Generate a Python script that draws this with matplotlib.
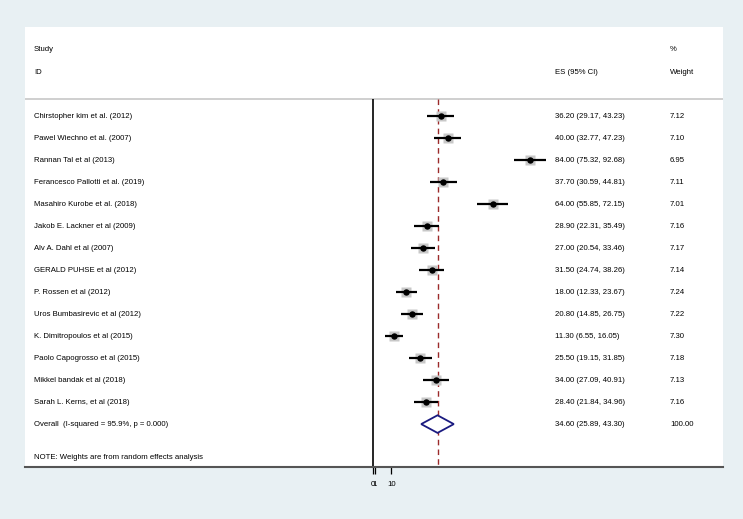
import matplotlib
matplotlib.use("Agg")
import matplotlib.pyplot as plt
from matplotlib.transforms import blended_transform_factory

studies = ["Chirstopher kim et al. (2012)", "Pawel Wiechno et al. (2007)", "Rannan Tal et al (2013)",
           "Ferancesco Pallotti et al. (2019)", "Masahiro Kurobe et al. (2018)", "Jakob E. Lackner et al (2009)",
           "Alv A. Dahl et al (2007)", "GERALD PUHSE et al (2012)", "P. Rossen et al (2012)",
           "Uros Bumbasirevic et al (2012)", "K. Dimitropoulos et al (2015)", "Paolo Capogrosso et al (2015)",
           "Mikkel bandak et al (2018)", "Sarah L. Kerns, et al (2018)"]
es = [36.20, 40.00, 84.00, 37.70, 64.00, 28.90, 27.00, 31.50, 18.00, 20.80, 11.30, 25.50, 34.00, 28.40]
lo = [29.17, 32.77, 75.32, 30.59, 55.85, 22.31, 20.54, 24.74, 12.33, 14.85, 6.55, 19.15, 27.09, 21.84]
hi = [43.23, 47.23, 92.68, 44.81, 72.15, 35.49, 33.46, 38.26, 23.67, 26.75, 16.05, 31.85, 40.91, 34.96]
weights = [7.12, 7.10, 6.95, 7.11, 7.01, 7.16, 7.17, 7.14, 7.24, 7.22, 7.30, 7.18, 7.13, 7.16]
overall_label = "Overall  (I-squared = 95.9%, p = 0.000)"
overall = (34.60, 25.89, 43.30, 100.00)
note = "NOTE: Weights are from random effects analysis"
xticks = [0, 1, 10]
xticklabels = ["0", "1", "10"]

bg = "#e8f0f3"
fig = plt.figure(figsize=(7.43, 5.19), dpi=100)
fig.patch.set_facecolor(bg)
W, H = 743, 519
ax = fig.add_axes([25 / W, (H - 467) / H, 698 / W, (467 - 27) / H])
ax.set_facecolor("white")
ax.set_xlim(-185.6, 187.0)
ax.set_ylim(15.95, -4.045)

fs = 5.6
fam = "Liberation Sans"
tf = blended_transform_factory(ax.transAxes, ax.transData)
xs, xe, xw = 0.0129, 0.759, 0.924

# header
ax.text(xs, -3, "Study", transform=tf, fontsize=fs, va="center", family=fam)
ax.text(xs, -2, "ID", transform=tf, fontsize=fs, va="center", family=fam)
ax.text(xw, -3, "%", transform=tf, fontsize=fs, va="center", family=fam)
ax.text(xe, -2, "ES (95% CI)", transform=tf, fontsize=fs, va="center", family=fam)
ax.text(xw, -2, "Weight", transform=tf, fontsize=fs, va="center", family=fam)
ax.axhline(-0.773, color="#cccccc", lw=1.3)

# reference lines
ax.vlines(0, -0.773, 15.95, color="black", lw=1.2)
ax.vlines(overall[0], -0.773, 15.95, color="#9b2a2a", lw=1.0, linestyles=(0, (4, 3)))

for i, (s, e, l, h, w) in enumerate(zip(studies, es, lo, hi, weights)):
    ax.plot([l, h], [i, i], color="black", lw=1.6, solid_capstyle="butt", zorder=3)
    ax.plot(e, i, marker="s", ms=6.5, color="#c8c8c8", mec="none", zorder=2)
    ax.plot(e, i, marker="o", ms=3.6, color="black", zorder=4)
    ax.text(xs, i, s, transform=tf, fontsize=fs, va="center", family=fam)
    ax.text(xe, i, f"{e:.2f} ({l:.2f}, {h:.2f})", transform=tf, fontsize=fs, va="center", family=fam)
    ax.text(xw, i, f"{w:.2f}", transform=tf, fontsize=fs, va="center", family=fam)

oy = len(studies)
m, l, h, w = overall
ax.fill([l, m, h, m, l], [oy, oy - 0.4, oy, oy + 0.4, oy], facecolor="white", edgecolor="#1a1a80", lw=1.3, zorder=3)
ax.text(xs, oy, overall_label, transform=tf, fontsize=fs, va="center", family=fam)
ax.text(xe, oy, f"{m:.2f} ({l:.2f}, {h:.2f})", transform=tf, fontsize=fs, va="center", family=fam)
ax.text(xw, oy, f"{w:.2f}", transform=tf, fontsize=fs, va="center", family=fam)
ax.text(xs, 15.5, note, transform=tf, fontsize=fs, va="center", family=fam)

for sp in ["top", "left", "right"]:
    ax.spines[sp].set_visible(False)
ax.spines["bottom"].set_color("#555555")
ax.spines["bottom"].set_linewidth(1.5)
ax.set_yticks([])
ax.set_xticks(xticks)
ax.set_xticklabels(xticklabels, fontsize=fs, family=fam)
ax.tick_params(axis="x", length=5, width=0.9, color="black", pad=5)

fig.savefig("out.png", dpi=100, facecolor=bg)
